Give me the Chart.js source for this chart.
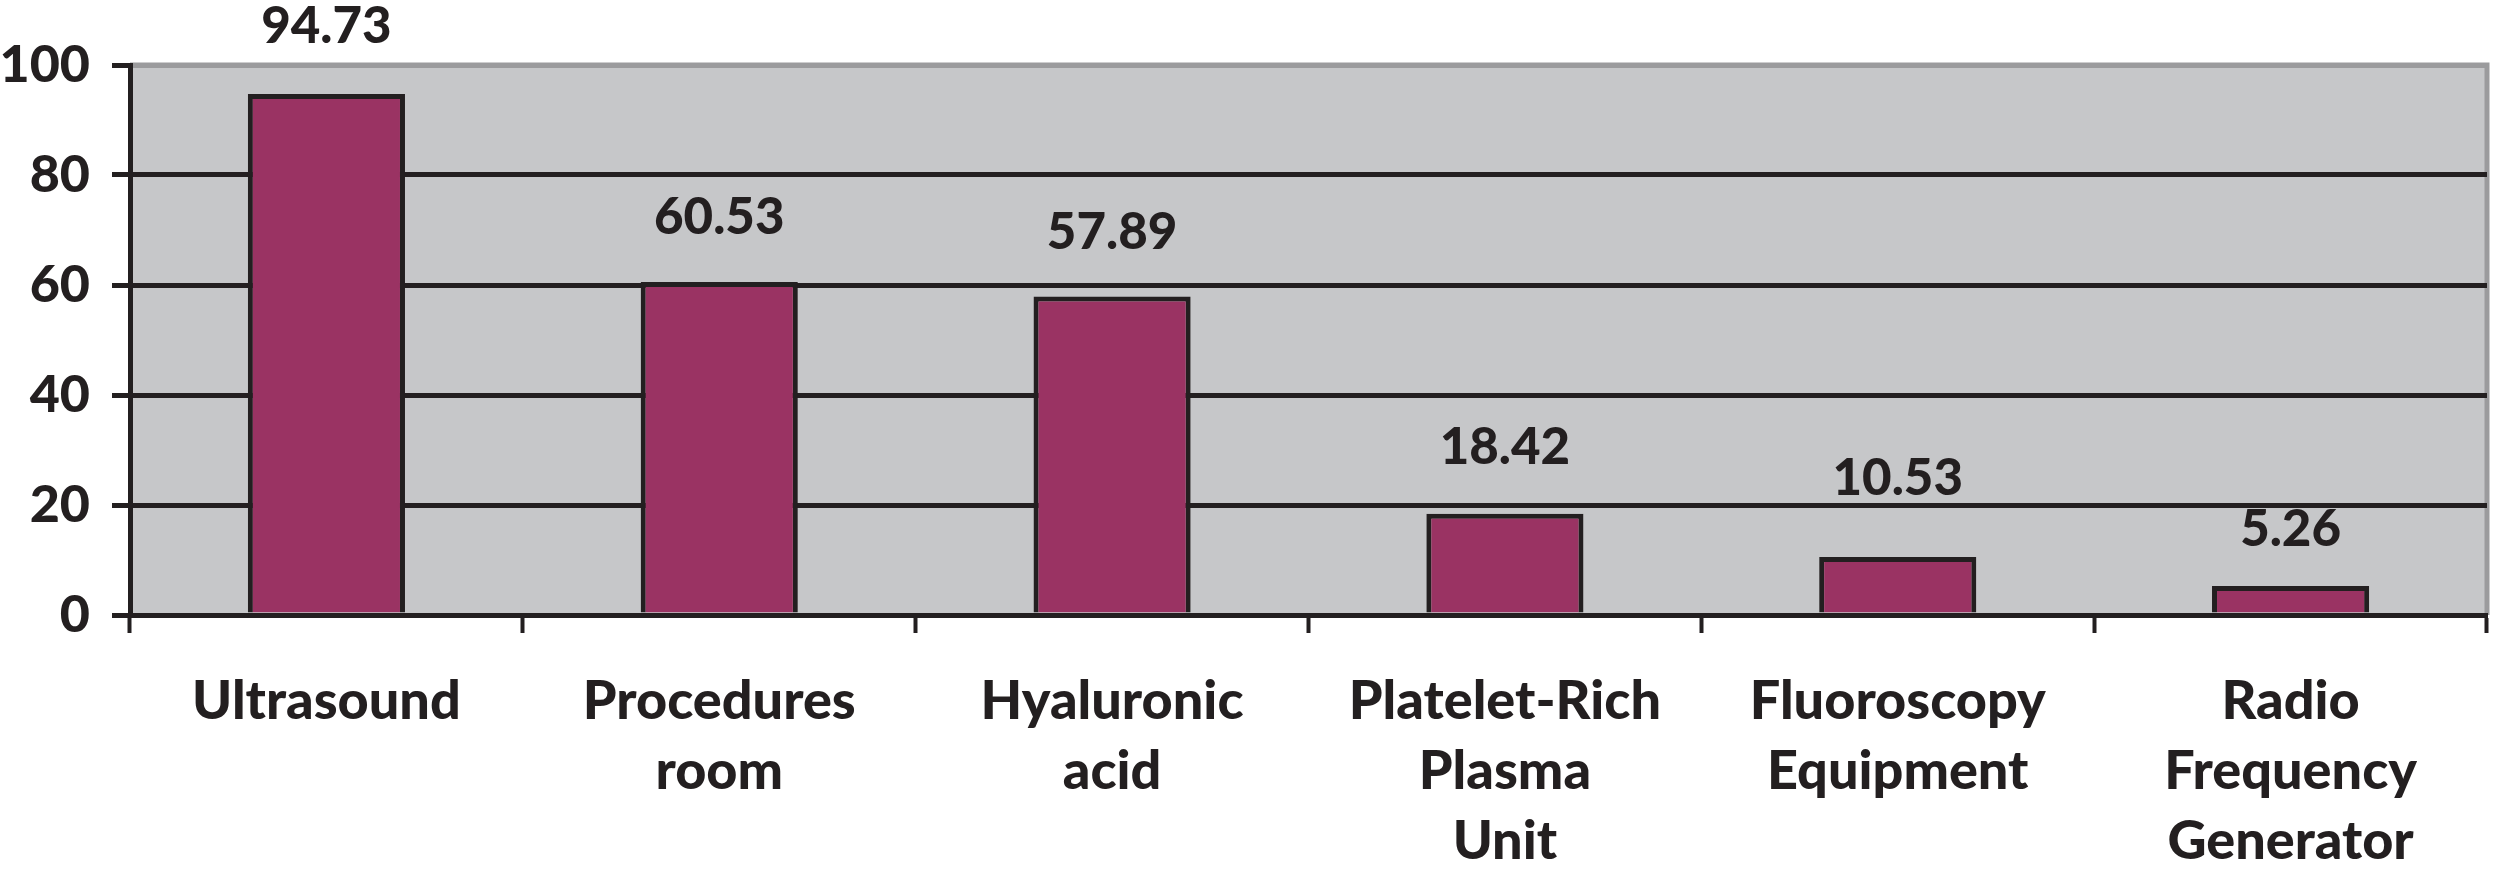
<!DOCTYPE html>
<html lang="en">
<head>
    <meta charset="UTF-8">
    <title>Equipment availability</title>
    <script src="https://cdn.jsdelivr.net/npm/chart.js"></script>
    <style>
        body { margin: 0; background: #fff; }
    </style>
</head>
<body>
    <canvas id="myChart" width="2500" height="890"></canvas>
    <script>
        const categories = [
            'Ultrasound',
            ['Procedures', 'room'],
            ['Hyaluronic', 'acid'],
            ['Platelet-Rich', 'Plasma', 'Unit'],
            ['Fluoroscopy', 'Equipment'],
            ['Radio', 'Frequency', 'Generator']
        ];
        const percentages = [94.73, 60.53, 57.89, 18.42, 10.53, 5.26];
        const yTicks = [0, 20, 40, 60, 80, 100];

        const FONT = 'Lato, "Open Sans", sans-serif';
        const INK = '#231f20';
        // how far each value label sits above its bar (px); the last two were nudged in the original
        const labelLift = [67, 65, 64, 66, 79, 57];

        // grey plot background with the lighter frame on top and right
        const plotBackground = {
            id: 'plotBackground',
            beforeDraw(chart) {
                const { ctx, chartArea: a } = chart;
                ctx.save();
                ctx.fillStyle = '#c6c7c9';
                ctx.fillRect(a.left, a.top, a.right - a.left, a.bottom - a.top);
                ctx.strokeStyle = '#9b9b9d';
                ctx.lineWidth = 5;
                ctx.beginPath();
                ctx.moveTo(a.left, a.top);
                ctx.lineTo(a.right, a.top);
                ctx.lineTo(a.right, a.bottom);
                ctx.stroke();
                ctx.restore();
            }
        };

        // value above each bar
        const valueLabels = {
            id: 'valueLabels',
            afterDatasetsDraw(chart) {
                const { ctx } = chart;
                const meta = chart.getDatasetMeta(0);
                ctx.save();
                ctx.fillStyle = INK;
                ctx.font = '900 51px ' + FONT;
                ctx.textAlign = 'center';
                ctx.textBaseline = 'middle';
                meta.data.forEach((bar, i) => {
                    ctx.fillText(percentages[i].toFixed(2), bar.x, bar.y - labelLift[i]);
                });
                ctx.restore();
            }
        };

        const ctx = document.getElementById('myChart').getContext('2d');
        const chart = new Chart(ctx, {
            type: 'bar',
            data: {
                labels: categories,
                datasets: [{
                    data: percentages,
                    backgroundColor: '#9a3363',
                    borderColor: INK,
                    borderWidth: 5,
                    barPercentage: 0.4,
                    categoryPercentage: 1.0
                }]
            },
            options: {
                responsive: false,
                animation: false,
                layout: { padding: { top: 65, right: 13, left: 0, bottom: 0 } },
                plugins: {
                    legend: { display: false },
                    tooltip: { enabled: false }
                },
                scales: {
                    x: {
                        offset: true,
                        grid: {
                            offset: true,
                            drawOnChartArea: false,
                            tickLength: 18,
                            tickWidth: 4,
                            tickColor: INK
                        },
                        border: { color: INK, width: 5 },
                        ticks: {
                            color: INK,
                            padding: 33,
                            maxRotation: 0,
                            autoSkip: false,
                            font: { family: FONT, size: 54, weight: 900, lineHeight: 1.3 }
                        },
                        afterFit(scale) { scale.height = 275; }
                    },
                    y: {
                        min: 0,
                        max: 100,
                        afterBuildTicks(scale) {
                            scale.ticks = yTicks.map(v => ({ value: v }));
                        },
                        grid: {
                            color: c => c.tick && c.tick.value === 100 ? '#9b9b9d' : INK,
                            lineWidth: 5,
                            tickLength: 18,
                            tickColor: INK,
                            tickWidth: 5
                        },
                        border: { color: INK, width: 5 },
                        ticks: {
                            color: INK,
                            padding: 22,
                            font: { family: FONT, size: 52, weight: 900 }
                        },
                        afterFit(scale) { scale.width = 130; }
                    }
                }
            },
            plugins: [plotBackground, valueLabels]
        });
    </script>
</body>
</html>
